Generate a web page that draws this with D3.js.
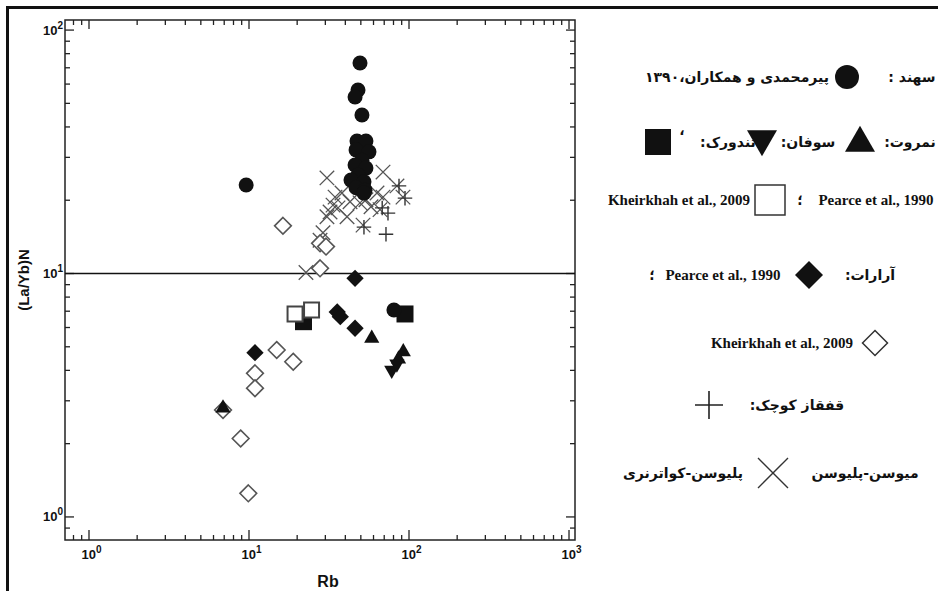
<!DOCTYPE html>
<html>
<head>
<meta charset="utf-8">
<script src="https://cdn.jsdelivr.net/npm/d3@7"></script>
<style>
  body { margin: 0; background: #fff; }
  svg { display: block; }
</style>
</head>
<body>
<div id="chart"></div>
<script>
// Rb vs (La/Yb)N, log-log scatter with Persian legend

// [Rb, (La/Yb)N]
const sahand = [
  [49.4, 73.2], [48.0, 56.7], [46.0, 53.1], [50.8, 44.8],
  [47.3, 35.0], [53.8, 35.0], [46.7, 32.2], [56.2, 31.6], [50.8, 29.2],
  [46.0, 27.9], [53.8, 27.1], [48.0, 25.4], [43.4, 24.2], [52.3, 23.8],
  [46.7, 22.5], [53.1, 22.0], [52.3, 21.4],
  [9.6, 23.1], [80.5, 7.08]
];
const nemrutUp = [[58.5, 5.42], [92.1, 4.77], [86.0, 4.45], [6.88, 2.80]];
const sufanDown = [[78.0, 4.01], [84.0, 4.25]];
const tendurekSq = [[21.9, 6.34], [94.4, 6.82]];
const pearceOpenSq = [[19.4, 6.82], [24.6, 7.08]];
const araratDiamond = [[35.6, 6.95], [37.2, 6.65], [46.0, 5.96], [10.9, 4.73], [46.0, 9.55]];
const kheirkhahDiamond = [
  [14.9, 4.85], [18.9, 4.34], [10.9, 3.89], [10.9, 3.38], [8.87, 2.10],
  [9.9, 1.25], [16.3, 15.7], [27.8, 13.3], [30.3, 12.9], [27.8, 10.5], [6.88, 2.75]
];
const lesserCaucasus = [[94.4, 20.4], [86.6, 22.9], [73.9, 17.7], [71.8, 14.5], [52.3, 15.5], [68.0, 18.6]];
const mioPlio = [
  [30.7, 24.7], [68.8, 26.1], [84.1, 22.9], [91.7, 20.6], [34.5, 20.6], [38.1, 21.4],
  [33.5, 19.1], [32.1, 17.9], [30.7, 17.1], [36.0, 18.6], [41.0, 17.1], [42.8, 19.7],
  [49.4, 19.5], [53.8, 20.1], [57.9, 18.8], [63.1, 21.4], [68.8, 20.6], [65.9, 18.3],
  [51.6, 15.8], [29.0, 14.7], [27.8, 13.7], [22.7, 10.1]
];

const width = 938, height = 591;
const svg = d3.select("#chart").append("svg")
  .attr("width", width)
  .attr("height", height);

// custom symbol types
const symDiamond = {
  draw(ctx, size) {
    const h = Math.sqrt(size / 2);
    ctx.moveTo(0, -h); ctx.lineTo(h, 0); ctx.lineTo(0, h); ctx.lineTo(-h, 0); ctx.closePath();
  }
};
const symPlus = {
  draw(ctx, size) {
    const r = Math.sqrt(size) / 2;
    ctx.moveTo(-r, 0); ctx.lineTo(r, 0); ctx.moveTo(0, -r); ctx.lineTo(0, r);
  }
};
const symTimes = {
  draw(ctx, size) {
    const r = Math.sqrt(size) / 2;
    ctx.moveTo(-r, -r); ctx.lineTo(r, r); ctx.moveTo(-r, r); ctx.lineTo(r, -r);
  }
};

const plot = { left: 65, right: 575, top: 20, bottom: 540 };
const x = d3.scaleLog().domain([0.708, 1090]).range([plot.left, plot.right]);
const y = d3.scaleLog().domain([0.804, 110]).range([plot.bottom, plot.top]);

// outer border (top + left)
svg.append("path")
  .attr("d", `M7.5,${height}V7.5H${width}`)
  .attr("fill", "none")
  .attr("stroke", "#111")
  .attr("stroke-width", 3);

// ticks
const isMajor = v => Math.abs(Math.log10(v) - Math.round(Math.log10(v))) < 1e-6;
const tickG = svg.append("g").attr("stroke", "#222").attr("stroke-width", 1.3);

x.ticks().forEach(v => {
  const px = x(v), m = isMajor(v);
  tickG.append("line").attr("x1", px).attr("x2", px)
    .attr("y1", plot.bottom).attr("y2", plot.bottom - (m ? 10 : 5));
  tickG.append("line").attr("x1", px).attr("x2", px)
    .attr("y1", plot.top).attr("y2", plot.top + (m ? 9 : 5));
});
y.ticks().forEach(v => {
  const py = y(v), m = isMajor(v);
  tickG.append("line").attr("y1", py).attr("y2", py)
    .attr("x1", plot.left).attr("x2", plot.left + (m ? 9 : 5));
  tickG.append("line").attr("y1", py).attr("y2", py)
    .attr("x1", plot.right).attr("x2", plot.right - (m ? 9 : 5));
});

// frame
svg.append("rect")
  .attr("x", plot.left).attr("y", plot.top)
  .attr("width", plot.right - plot.left).attr("height", plot.bottom - plot.top)
  .attr("fill", "none").attr("stroke", "#222").attr("stroke-width", 1.5);

// reference line at (La/Yb)N = 10
svg.append("line")
  .attr("x1", plot.left).attr("x2", plot.right)
  .attr("y1", y(10)).attr("y2", y(10))
  .attr("stroke", "#111").attr("stroke-width", 1.5);

// tick labels
const labelFont = "'Liberation Sans', Arial, sans-serif";
function powLabel(sel, e) {
  sel.append("tspan").text("10");
  sel.append("tspan").attr("dy", -6).attr("font-size", 10).text(e);
}
x.ticks().filter(isMajor).forEach(v => {
  svg.append("text")
    .attr("x", x(v) - 7.5).attr("y", 559)
    .attr("text-anchor", "start")
    .attr("font-family", labelFont).attr("font-weight", "bold").attr("font-size", 13)
    .attr("fill", "#111")
    .call(powLabel, Math.round(Math.log10(v)));
});
y.ticks().filter(isMajor).forEach(v => {
  svg.append("text")
    .attr("x", 63).attr("y", y(v) + 4.5)
    .attr("text-anchor", "end")
    .attr("font-family", labelFont).attr("font-weight", "bold").attr("font-size", 13)
    .attr("fill", "#111")
    .call(powLabel, Math.round(Math.log10(v)));
});

// axis titles
svg.append("text")
  .attr("x", (plot.left + plot.right) / 2 + 8).attr("y", 587)
  .attr("text-anchor", "middle")
  .attr("font-family", labelFont).attr("font-weight", "bold").attr("font-size", 16)
  .attr("fill", "#111")
  .text("Rb");
svg.append("text")
  .attr("transform", `translate(29,${(plot.top + plot.bottom) / 2}) rotate(-90)`)
  .attr("text-anchor", "middle")
  .attr("font-family", labelFont).attr("font-weight", "bold").attr("font-size", 15)
  .attr("fill", "#111")
  .text("(La/Yb)N");

// data marks
function drawSeries(data, type, size, style) {
  const sym = d3.symbol().type(type).size(size);
  svg.append("g").selectAll("path")
    .data(data)
    .join("path")
    .attr("transform", d => `translate(${x(d[0])},${y(d[1])})${style.rotate ? " rotate(180)" : ""}`)
    .attr("d", sym)
    .attr("fill", style.fill || "none")
    .attr("stroke", style.stroke || "none")
    .attr("stroke-width", style.sw || 1);
}

drawSeries(mioPlio, symTimes, 210, { stroke: "#555", sw: 1.3 });
drawSeries(lesserCaucasus, symPlus, 210, { stroke: "#333", sw: 1.4 });
drawSeries(kheirkhahDiamond, symDiamond, 140, { fill: "#fff", stroke: "#555", sw: 1.6 });
drawSeries(tendurekSq, d3.symbolSquare, 289, { fill: "#111" });
drawSeries(pearceOpenSq, d3.symbolSquare, 225, { fill: "#fff", stroke: "#444", sw: 2 });
drawSeries(araratDiamond, symDiamond, 150, { fill: "#111" });
drawSeries(nemrutUp, d3.symbolTriangle, 100, { fill: "#111" });
drawSeries(sufanDown, d3.symbolTriangle, 100, { fill: "#111", rotate: true });
drawSeries(sahand, d3.symbolCircle, 177, { fill: "#111" });

// legend
const faFont = "'DejaVu Sans', sans-serif";
const enFont = "'Liberation Serif', 'Times New Roman', serif";
const legendTexts = [
  { t: "سهند :", x: 912, y: 82, fa: true },
  { t: "پیرمحمدی و همکاران،۱۳۹۰", x: 737, y: 82, fa: true },
  { t: "نمروت:", x: 910, y: 147, fa: true },
  { t: "سوفان:", x: 808, y: 147, fa: true },
  { t: "تندورک:", x: 728, y: 147, fa: true },
  { t: "،", x: 682, y: 135, fa: true },
  { t: "Pearce et al., 1990", x: 876, y: 205 },
  { t: "؛", x: 800, y: 205, fa: true },
  { t: "Kheirkhah et al., 2009", x: 679, y: 205 },
  { t: "آرارات:", x: 870, y: 280, fa: true },
  { t: "Pearce et al., 1990", x: 723, y: 280 },
  { t: "؛", x: 652, y: 280, fa: true },
  { t: "Kheirkhah et al., 2009", x: 782, y: 348 },
  { t: "قفقاز کوچک:", x: 797, y: 410, fa: true },
  { t: "میوسن-پلیوسن", x: 865, y: 478, fa: true },
  { t: "پلیوسن-کواترنری", x: 683, y: 478, fa: true }
];
svg.append("g").selectAll("text")
  .data(legendTexts)
  .join("text")
  .attr("x", d => d.x).attr("y", d => d.y)
  .attr("text-anchor", "middle")
  .attr("direction", d => d.fa ? "rtl" : "ltr")
  .attr("font-family", d => d.fa ? faFont : enFont)
  .attr("font-weight", "bold")
  .attr("font-size", d => d.fa ? 14 : 15)
  .attr("fill", "#111")
  .text(d => d.t);

const legendSymbols = [
  { type: d3.symbolCircle, size: 452, x: 847, y: 77, fill: "#111" },
  { type: d3.symbolTriangle, size: 390, x: 860, y: 143, fill: "#111" },
  { type: d3.symbolTriangle, size: 390, x: 762, y: 139, fill: "#111", rotate: true },
  { type: d3.symbolSquare, size: 676, x: 658, y: 142, fill: "#111" },
  { type: d3.symbolSquare, size: 900, x: 770, y: 200, fill: "#fff", stroke: "#333", sw: 1.5 },
  { type: symDiamond, size: 392, x: 809, y: 275, fill: "#111" },
  { type: symDiamond, size: 312, x: 875, y: 343, fill: "#fff", stroke: "#333", sw: 1.5 },
  { type: symPlus, size: 784, x: 709, y: 405, stroke: "#222", sw: 1.6 },
  { type: symTimes, size: 900, x: 773, y: 473, stroke: "#333", sw: 1.4 }
];
svg.append("g").selectAll("path")
  .data(legendSymbols)
  .join("path")
  .attr("transform", d => `translate(${d.x},${d.y})${d.rotate ? " rotate(180)" : ""}`)
  .attr("d", d => d3.symbol().type(d.type).size(d.size)())
  .attr("fill", d => d.fill || "none")
  .attr("stroke", d => d.stroke || "none")
  .attr("stroke-width", d => d.sw || 1);
</script>
</body>
</html>
